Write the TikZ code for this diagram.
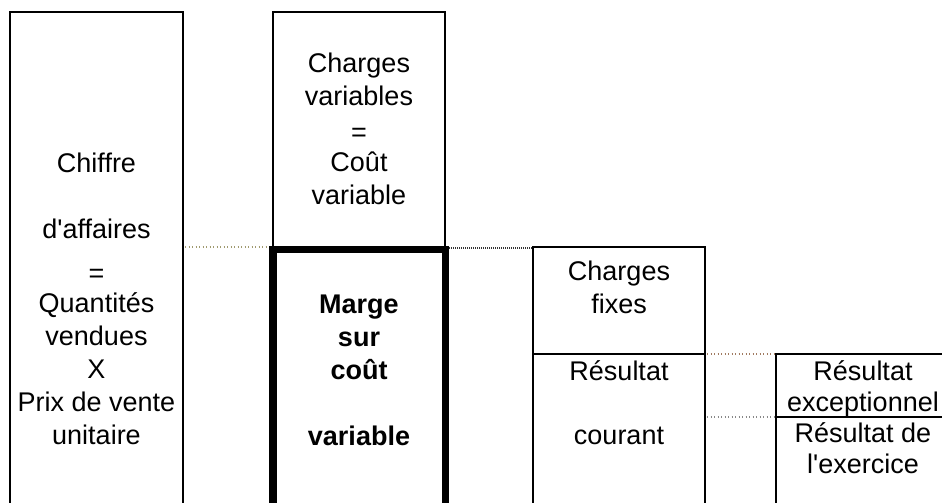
\documentclass[tikz,border=0pt]{standalone}
\usepackage{fontspec}
\setmainfont{Liberation Sans}
\definecolor{olivedot}{HTML}{A09A70}
\definecolor{browndot}{HTML}{A07A60}
\definecolor{greydot}{HTML}{888888}
\begin{document}
\begin{tikzpicture}[x=1pt,y=-1pt,
    box/.style={line width=2pt},
    bigbox/.style={line width=7.5pt},
    lbl/.style={anchor=base,inner sep=0pt,font=\fontsize{27}{33}\selectfont},
    link/.style={line width=2pt,dash pattern=on 1pt off 2.5pt}]

    \useasboundingbox (0,0) rectangle (942,503);

    % --- Coordinates ---
    % CA is the column of the chiffre d'affaires, open at the bottom
    \coordinate (CAtl) at (10,12);
    \coordinate (CAtr) at (183,12);
    \coordinate (CAbl) at (10,503);
    \coordinate (CAbr) at (183,503);
    % CV is the box of the charges variables
    \coordinate (CVtl) at (273,12);
    \coordinate (CVbr) at (445,247);
    % MCV is the thick frame of the marge, under CV
    \coordinate (MCVtl) at (273,249.5);
    \coordinate (MCVtr) at (445.5,249.5);
    \coordinate (MCVbl) at (273,503);
    \coordinate (MCVbr) at (445.5,503);
    % CF is the column of charges fixes and resultat courant
    \coordinate (CFtl) at (533,247);
    \coordinate (CFtr) at (705,247);
    \coordinate (CFml) at (533,354);
    \coordinate (CFmr) at (705,354);
    \coordinate (CFbl) at (533,503);
    \coordinate (CFbr) at (705,503);
    % RE is the last column, cut by the right edge
    \coordinate (REtl) at (776,354);
    \coordinate (REtr) at (942,354);
    \coordinate (REml) at (776,417);
    \coordinate (REmr) at (942,417);
    \coordinate (REbl) at (776,503);
    % points where the dotted links leave a box
    \coordinate (CAe) at (183,247);
    \coordinate (MCVw) at (269,247);
    \coordinate (MCVe) at (449,248);
    \coordinate (CFw) at (532,248);
    \coordinate (CFe1) at (705,354);
    \coordinate (CFe2) at (705,417);

    % --- Drawing the Boxes ---
    \draw[box] (CAbl) -- (CAtl) -- (CAtr) -- (CAbr);
    \draw[box] (CVtl) rectangle (CVbr);
    \draw[bigbox] (MCVbl) -- (MCVtl) -- (MCVtr) -- (MCVbr);
    \draw[box] (CFbl) -- (CFtl) -- (CFtr) -- (CFbr);
    \draw[box] (CFml) -- (CFmr);
    \draw[box] (REbl) -- (REtl) -- (REtr);
    \draw[box] (REml) -- (REmr);

    % --- Dotted Links ---
    \draw[link,olivedot,shorten <=2pt] (CAe) -- (MCVw);
    \draw[link,black!80,dash pattern=on 1pt off 1pt] (MCVe) -- (CFw);
    \draw[link,browndot,shorten <=2pt] (CFe1) -- (REtl);
    \draw[link,greydot,shorten <=2pt] (CFe2) -- (REml);

    % --- Texts ---
    % chiffre d'affaires
    \foreach \txt/\yy [count=\i] in {Chiffre/172, d\textquotesingle affaires/238}
        \node[lbl] (ca\i) at (96.5,\yy) {\txt};
    \foreach \txt/\yy [count=\i] in {=/282, Quantités/312, vendues/345,
        X/378, Prix de vente/411, unitaire/444}
        \node[lbl] (qv\i) at (96.5,\yy) {\txt};
    % charges variables
    \foreach \txt/\yy [count=\i] in {Charges/72, variables/105, =/141,
        Coût/171, variable/204}
        \node[lbl] (cv\i) at (359,\yy) {\txt};
    % marge sur cout variable, in bold
    \foreach \txt/\yy [count=\i] in {Marge/313, sur/346, coût/379, variable/445}
        \node[lbl] (mcv\i) at (359,\yy) {\bfseries\txt};
    % charges fixes and resultat courant
    \foreach \txt/\yy [count=\i] in {Charges/280, fixes/313}
        \node[lbl] (cf\i) at (619,\yy) {\txt};
    \foreach \txt/\yy [count=\i] in {Résultat/380, courant/444}
        \node[lbl] (rc\i) at (619,\yy) {\txt};
    % resultat exceptionnel and resultat de l'exercice
    \foreach \txt/\yy [count=\i] in {Résultat/380, exceptionnel/411}
        \node[lbl] (re\i) at (863,\yy) {\txt};
    \foreach \txt/\yy [count=\i] in {Résultat de/442, l\textquotesingle exercice/473}
        \node[lbl] (rx\i) at (863,\yy) {\txt};

\end{tikzpicture}
\end{document}
